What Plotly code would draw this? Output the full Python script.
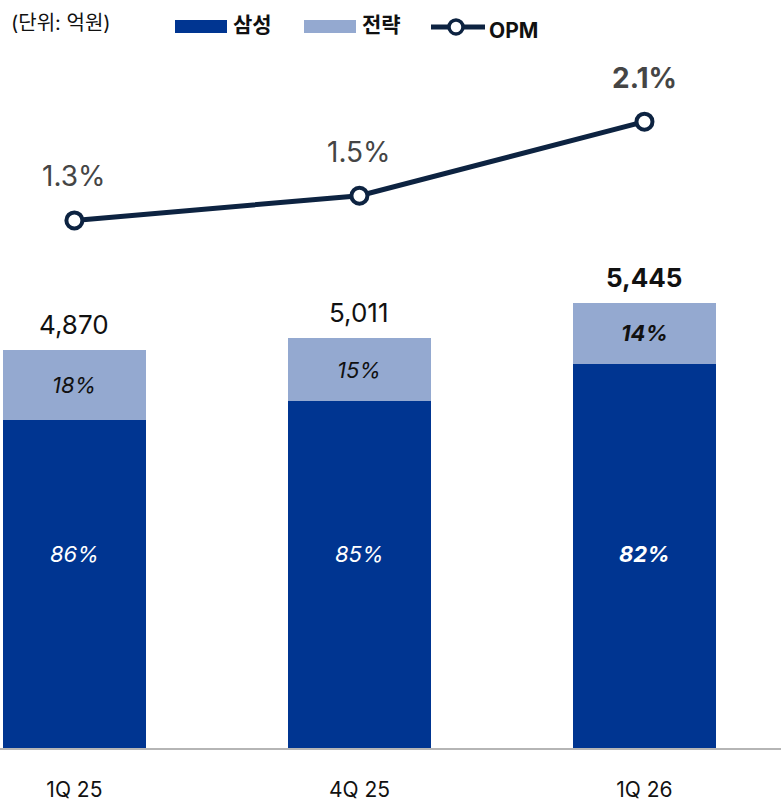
import plotly.graph_objects as go

# ── Data ────────────────────────────────────────────────────────────────
quarters = ["1Q 25", "4Q 25", "1Q 26"]
samsung = [4012, 4244, 4695]          # 삼성 (억원)
strategy = [858, 767, 750]            # 전략 (억원)
totals = [4870, 5011, 5445]
samsung_share = ["86%", "85%", "82%"]
strategy_share = ["18%", "15%", "14%"]
opm = [1.3, 1.5, 2.1]
opm_labels = ["1.3%", "1.5%", "2.1%"]

# ── Style ───────────────────────────────────────────────────────────────
DARK = "#003591"
LIGHT = "#94a9d0"
NAVY = "#0d2341"
FONT = "Inter, 'Noto Sans CJK KR', sans-serif"
W, H = 781, 802
PLOT_H = 750

fig = go.Figure()
fig.add_trace(go.Bar(x=quarters, y=samsung, marker_color=DARK, width=0.5,
                     marker_line_width=0, name="삼성"))
fig.add_trace(go.Bar(x=quarters, y=strategy, marker_color=LIGHT, width=0.5,
                     marker_line_width=0, name="전략"))
fig.add_trace(go.Scatter(
    x=quarters, y=opm, yaxis="y2", mode="lines+markers", name="OPM",
    line=dict(color=NAVY, width=5),
    marker=dict(size=16, color="white", line=dict(color=NAVY, width=4)),
))

ann = []
last = len(quarters) - 1
for i, q in enumerate(quarters):
    bold = i == last
    # totals above bars
    ann.append(dict(x=q, y=totals[i], text=f"{totals[i]:,}", showarrow=False,
                    yanchor="bottom", yshift=8,
                    font=dict(size=26, color="#111", family=FONT,
                              weight="bold" if bold else "normal")))
    # strategy share (middle of light segment)
    ann.append(dict(x=q, y=samsung[i] + strategy[i] / 2, text=strategy_share[i],
                    showarrow=False, yanchor="middle",
                    font=dict(size=22, color="#111", family=FONT, style="italic",
                              weight="bold" if bold else "normal")))
    # samsung share (fixed height)
    ann.append(dict(x=q, y=2370, text=samsung_share[i], showarrow=False,
                    yanchor="middle",
                    font=dict(size=22, color="white", family=FONT, style="italic",
                              weight="bold" if bold else "normal")))
    # OPM labels
    ann.append(dict(x=q, y=opm[i], yref="y2", text=opm_labels[i], showarrow=False,
                    yanchor="middle", yshift=44,
                    font=dict(size=28, color="#454545", family=FONT,
                              weight="bold" if bold else "normal")))


def px_x(p):
    return p / W


def px_y(p):
    return (PLOT_H - p) / PLOT_H


# ── Custom legend on top ───────────────────────────────────────────────
ann.append(dict(xref="paper", yref="paper", x=px_x(9), y=px_y(23), text="(단위: 억원)",
                showarrow=False, xanchor="left", yanchor="middle",
                font=dict(size=20, color="#111", family=FONT)))
ann.append(dict(xref="paper", yref="paper", x=px_x(231), y=px_y(25), text="<b>삼성</b>",
                showarrow=False, xanchor="left", yanchor="middle",
                font=dict(size=21, color="#111", family=FONT)))
ann.append(dict(xref="paper", yref="paper", x=px_x(360), y=px_y(25), text="<b>전략</b>",
                showarrow=False, xanchor="left", yanchor="middle",
                font=dict(size=21, color="#111", family=FONT)))
ann.append(dict(xref="paper", yref="paper", x=px_x(487), y=px_y(31), text="<b>OPM</b>",
                showarrow=False, xanchor="left", yanchor="middle",
                font=dict(size=21, color="#111", family=FONT)))

shapes = [
    dict(type="rect", xref="paper", yref="paper", x0=px_x(175), x1=px_x(227),
         y0=px_y(33), y1=px_y(20), fillcolor=DARK, line_width=0),
    dict(type="rect", xref="paper", yref="paper", x0=px_x(304), x1=px_x(356),
         y0=px_y(33), y1=px_y(20), fillcolor=LIGHT, line_width=0),
    dict(type="line", xref="paper", yref="paper", x0=px_x(431), x1=px_x(485),
         y0=px_y(27), y1=px_y(27), line=dict(color=NAVY, width=5)),
    dict(type="circle", xref="paper", yref="paper", x0=px_x(449), x1=px_x(463),
         y0=px_y(34), y1=px_y(20), fillcolor="white", line=dict(color=NAVY, width=3.5)),
]

fig.update_layout(
    width=W, height=H,
    barmode="stack",
    showlegend=False,
    paper_bgcolor="white",
    plot_bgcolor="white",
    margin=dict(l=0, r=0, t=0, b=H - PLOT_H),
    font=dict(family=FONT, color="#111"),
    annotations=ann,
    shapes=shapes,
    xaxis=dict(range=[-0.261, 2.479], showgrid=False, zeroline=False,
               showline=True, linecolor="#b5b5b5", linewidth=2,
               ticks="outside", ticklen=22, tickcolor="rgba(0,0,0,0)",
               tickfont=dict(size=21, color="#111", family=FONT)),
    yaxis=dict(range=[0, PLOT_H / 0.082], visible=False, showgrid=False),
    yaxis2=dict(range=[-2.975, 3.086], overlaying="y", visible=False, showgrid=False),
)

# drop the default page margin so the chart sits flush with the window
fig.write_html("out.html", config={"displayModeBar": False},
               post_script="document.body.style.margin='0';")
